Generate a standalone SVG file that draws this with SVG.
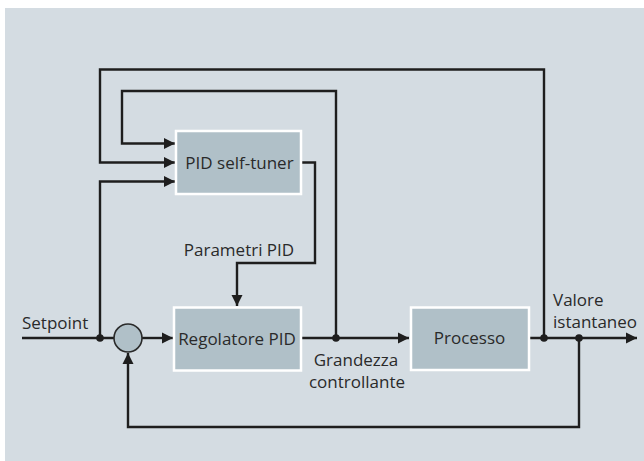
<svg xmlns="http://www.w3.org/2000/svg" width="644" height="461" viewBox="0 0 644 461">
  <style>
    .panel { fill: #d4dce2; }
    .box { fill: #b0c0c8; stroke: #ffffff; stroke-width: 2.5; }
    .sum { fill: #b0c0c8; stroke: #2a2a2a; stroke-width: 1.6; }
    .wire { fill: none; stroke: #1e1e1e; stroke-width: 2.4; stroke-linejoin: miter; }
    .dot { fill: #1e1e1e; }
    .lbl { font-family: "Open Sans", "Noto Sans", "Liberation Sans", sans-serif; font-size: 17px; fill: #2a2a2a; }
    .mid { text-anchor: middle; }
  </style>
  <defs>
    <marker id="arrow" markerWidth="12" markerHeight="12" refX="11" refY="6" orient="auto" markerUnits="userSpaceOnUse">
      <path d="M0,0.5 L11,6 L0,11.5 Z" fill="#1e1e1e"/>
    </marker>
  </defs>

  <rect class="panel" x="5" y="8" width="639" height="453"/>

  <!-- connectors -->
  <g id="connectors">
    <path class="wire" d="M22,338 H114"/>
    <path class="wire" d="M142,338 H173" marker-end="url(#arrow)"/>
    <path class="wire" d="M302,338 H409" marker-end="url(#arrow)"/>
    <path class="wire" d="M530,338 H637" marker-end="url(#arrow)"/>
    <!-- feedback of actual value to the summing point -->
    <path class="wire" d="M579,338 V427 H128 V353" marker-end="url(#arrow)"/>
    <!-- controller output to the self-tuner -->
    <path class="wire" d="M336,338 V91 H122 V143.5 H175" marker-end="url(#arrow)"/>
    <!-- actual value to the self-tuner -->
    <path class="wire" d="M544,338 V69.5 H100 V162.5 H175" marker-end="url(#arrow)"/>
    <!-- setpoint to the self-tuner -->
    <path class="wire" d="M100,338 V181.5 H175" marker-end="url(#arrow)"/>
    <!-- tuned parameters to the controller -->
    <path class="wire" d="M302,162.5 H315 V263 H237 V306" marker-end="url(#arrow)"/>
    <circle class="dot" cx="100" cy="338" r="3.8"/>
    <circle class="dot" cx="336" cy="338" r="3.8"/>
    <circle class="dot" cx="544" cy="338" r="3.8"/>
    <circle class="dot" cx="579" cy="338" r="3.8"/>
  </g>

  <g id="summing-point">
    <circle class="sum" cx="128" cy="338" r="14"/>
  </g>

  <g id="self-tuner">
    <rect class="box" x="176" y="131" width="125" height="63"/>
    <text class="lbl mid" x="239.5" y="169">PID self-tuner</text>
  </g>

  <g id="controller">
    <rect class="box" x="174" y="307.5" width="127" height="63"/>
    <text class="lbl mid" x="237" y="345">Regolatore PID</text>
  </g>

  <g id="process">
    <rect class="box" x="411" y="307.5" width="118" height="62.5"/>
    <text class="lbl mid" x="469.5" y="344">Processo</text>
  </g>

  <g id="labels">
    <text class="lbl" x="22" y="329">Setpoint</text>
    <text class="lbl mid" x="239" y="256">Parametri PID</text>
    <text class="lbl mid" x="356" y="366">Grandezza</text>
    <text class="lbl mid" x="357" y="388">controllante</text>
    <text class="lbl" x="553" y="305.5">Valore</text>
    <text class="lbl" x="553" y="327.5">istantaneo</text>
  </g>
</svg>
